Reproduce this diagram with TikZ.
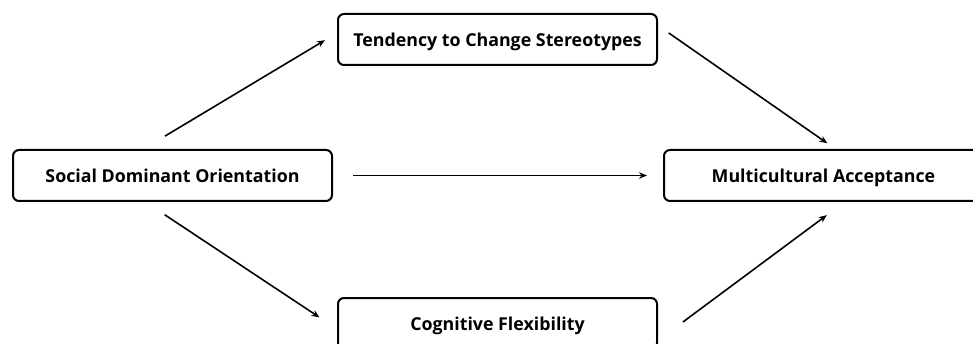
\documentclass[tikz,border=0pt]{standalone}
\usepackage{fontspec}
\setsansfont{Open Sans}[BoldFont={Open Sans Bold}]
\usetikzlibrary{arrows.meta}

\begin{document}
\begin{tikzpicture}[
		x=1pt, y=-1pt,
		font=\sffamily\bfseries,
		% Style for the variable boxes
		varbox/.style={
			draw=black, line width=2pt, rounded corners=6pt,
			minimum width=319pt, minimum height=51pt,
			inner sep=0pt, align=center, text height=16pt, text depth=1.6pt,
			font=\sffamily\bfseries\fontsize{17.8}{19}\selectfont
		},
		% Style for the paths
		path arrow/.style={line width=1.6pt, -{Stealth[length=8pt, width=6.5pt]}}
		]
		
		\useasboundingbox (0,0) rectangle (973,344);
		
		% Variables
		\node[varbox] (sdo) at (172.5, 175.5) {Social Dominant Orientation};
		\node[varbox] (tcs) at (497.5, 39.5) {Tendency to Change Stereotypes};
		\node[varbox] (cf) at (497.5, 323.5) {Cognitive Flexibility};
		\node[varbox] (ma) at (823.5, 175.5) {Multicultural Acceptance};
		
		% Paths
		\draw[path arrow, shorten <=25pt, shorten >=14pt]
			([xshift=-29pt]sdo.north) -- ([yshift=6.5pt]tcs.west);
		\draw[path arrow, shorten <=23pt, shorten >=21pt]
			([xshift=-27pt]sdo.south) -- ([yshift=-5.5pt]cf.west);
		\draw[path arrow, shorten <=20pt, shorten >=16pt]
			(sdo.east) -- (ma.west);
		\draw[path arrow, shorten <=13pt, shorten >=10pt]
			([yshift=14pt]tcs.east) -- ([xshift=12pt]ma.north);
		\draw[path arrow, shorten <=31pt, shorten >=22pt]
			([yshift=-17pt]cf.east) -- ([xshift=21pt]ma.south);
	\end{tikzpicture}
\end{document}
